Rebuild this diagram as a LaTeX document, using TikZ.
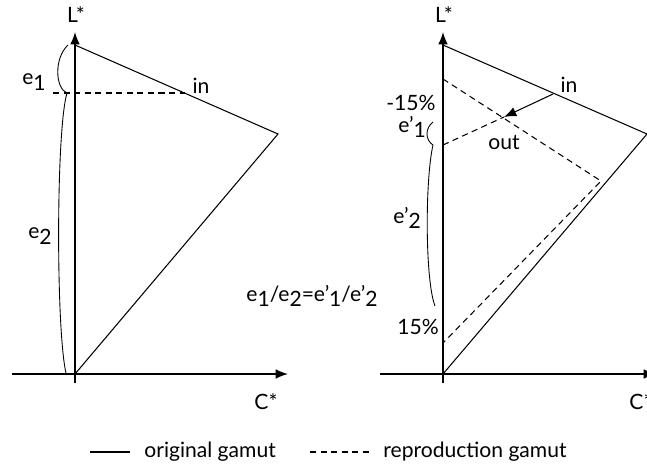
\documentclass[tikz,border=0pt]{standalone}
\usepackage{fontspec}
\setmainfont{Lato}
\usetikzlibrary{arrows.meta}
\newcommand{\lo}[1]{\raisebox{-0.5ex}{#1}}

\begin{document}
\begin{tikzpicture}[x=0.02cm, y=-0.02cm, font=\fontsize{12}{14}\selectfont, line width=0.6pt]
  \tikzset{
    axis/.style={line width=0.8pt, -{Latex[length=7pt,width=5.5pt]}},
    repro/.style={dashed, dash pattern=on 3.5pt off 2.5pt},
    brace/.style={line width=0.5pt},
  }
  \useasboundingbox (0,0) rectangle (647,468);
  \clip (0,0) rectangle (647,468);

  % left plot
  \coordinate (o1) at (75,374);
  \coordinate (t1) at (75,45);
  \coordinate (r1) at (278,134);
  \coordinate (p1) at (185,93);
  \coordinate (d1) at (53,93);
  \draw[axis] (75,383) -- (75,32);
  \draw[axis] (12,374) -- (288,374);
  \node (L1) at (76,15) {L*};
  \node (C1) at (266,402) {C*};
  \draw (t1) -- (r1) -- (o1);
  \draw[repro] (d1) -- (p1);
  \node (in1) at (201,86) {in};
  \draw[brace] (68,45) .. controls (54,58) and (55,88) .. (67,93);
  \draw[brace] (67,93) .. controls (56,130) and (56,330) .. (66,373);
  \node (e1) at (34,82) {e\lo{1}};
  \node (e2) at (40,236) {e\lo{2}};

  % right plot
  \coordinate (o2) at (443,374);
  \coordinate (t2) at (443,45);
  \coordinate (r2) at (647,134);
  \coordinate (a2) at (443,79);
  \coordinate (b2) at (601,181);
  \coordinate (c2) at (443,343);
  \coordinate (q2) at (443,145);
  \coordinate (in2) at (553,94);
  \coordinate (out2) at (504,117);
  \draw[axis] (443,383) -- (443,32);
  \draw[axis] (380,374) -- (656,374);
  \node (L2) at (444,15) {L*};
  \node (C2) at (641,402) {C*};
  \draw (t2) -- (r2) -- (o2);
  \draw[repro] (a2) -- (b2) -- (c2);
  \draw[repro] (q2) -- (out2);
  \draw[-{Latex[length=7pt,width=5.5pt]}] (in2) -- (out2);
  \node (inl) at (569,85) {in};
  \node (outl) at (504,143) {out};
  \node (m15) at (411,103) {-15\%};
  \node (p15) at (418,327) {15\%};
  \draw[brace] (433,122) .. controls (425,128) and (425,140) .. (433,145);
  \draw[brace] (433,145) .. controls (425,180) and (425,280) .. (435,306);
  \node (e1p) at (412,127) {e'\lo{1}};
  \node (e2p) at (407,218) {e'\lo{2}};

  \node (ratio) at (312,296) {e\lo{1}/e\lo{2}=e'\lo{1}/e'\lo{2}};

  % Legend
  \draw (90,452) -- (130,452);
  \node[anchor=west] (leg1) at (138,452) {original gamut};
  \draw[repro] (310,452) -- (373,452);
  \node[anchor=west] (leg2) at (377,452) {reproduction gamut};
\end{tikzpicture}
\end{document}
